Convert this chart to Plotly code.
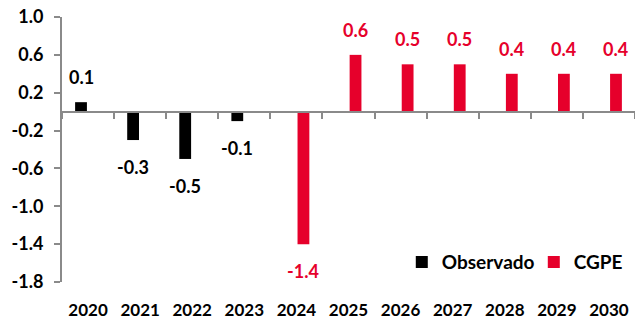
import plotly.graph_objects as go

years = ["2020", "2021", "2022", "2023", "2024", "2025", "2026", "2027", "2028", "2029", "2030"]
observado = [0.1, -0.3, -0.5, -0.1, None, None, None, None, None, None, None]
cgpe = [None, None, None, None, -1.4, 0.6, 0.5, 0.5, 0.4, 0.4, 0.4]
y_ticks = [1.0, 0.6, 0.2, -0.2, -0.6, -1.0, -1.4, -1.8]

BLACK = "#000000"
RED = "#E6002B"
AXIS = "#8A8A8A"
FONT = "Lato"
Y_MIN, Y_MAX = -1.8, 1.0
X_RANGE = [-0.5, len(years) - 0.5]

fig = go.Figure()
for name, series, color in (("Observado", observado, BLACK), ("CGPE", cgpe, RED)):
    fig.add_trace(go.Bar(name=name, x=years, y=series, marker_color=color,
                         marker_line_width=0, showlegend=False))
# square legend keys
for name, color in (("Observado", BLACK), ("CGPE", RED)):
    fig.add_trace(go.Scatter(name=name, x=[None], y=[None], mode="markers",
                             marker=dict(symbol="square", size=12, color=color),
                             showlegend=True, hoverinfo="skip"))
# hidden trace carrying the zero-line axis
fig.add_trace(go.Scatter(x=years, y=[None] * len(years), xaxis="x2", showlegend=False,
                         hoverinfo="skip", mode="markers"))

# value labels above / below each bar
annotations = []
for series, color, shift in ((observado, BLACK, -7), (cgpe, RED, 7)):
    for i, v in enumerate(series):
        if v is None:
            continue
        pos = v >= 0
        annotations.append(dict(
            x=i, y=v, xref="x", yref="y", text=f"{v:.1f}", showarrow=False,
            xshift=shift, yshift=12 if pos else -14,
            yanchor="bottom" if pos else "top", xanchor="center",
            font=dict(family=FONT, size=18, color=color, weight="bold"),
        ))

zero_pos = (0 - Y_MIN) / (Y_MAX - Y_MIN)

fig.update_layout(
    width=635, height=320,
    margin=dict(l=62, r=0, t=17, b=38, autoexpand=False),
    paper_bgcolor="white", plot_bgcolor="white",
    barmode="group", bargap=0.46, bargroupgap=0.16,
    font=dict(family=FONT, size=17, color="#000000", weight="bold"),
    showlegend=True,
    legend=dict(orientation="h", x=0.593, y=0.075, xanchor="left", yanchor="middle",
                bgcolor="rgba(0,0,0,0)", entrywidth=87,
                font=dict(family=FONT, size=19, color="#000000", weight="bold"),
                itemclick=False, itemdoubleclick=False),
    xaxis=dict(type="category", categoryorder="array", categoryarray=years,
               range=X_RANGE, showline=False, ticks="", showgrid=False, zeroline=False,
               ticklabelstandoff=16,
               tickfont=dict(family=FONT, size=17, color="#000000", weight="bold")),
    xaxis2=dict(type="category", categoryorder="array", categoryarray=years,
                range=X_RANGE, overlaying="x", anchor="free", position=zero_pos,
                showline=True, linecolor=AXIS, linewidth=2,
                ticks="outside", tickson="boundaries", ticklen=6, tickwidth=2,
                tickcolor=AXIS, showticklabels=False, showgrid=False, zeroline=False),
    yaxis=dict(range=[Y_MIN, Y_MAX], tickvals=y_ticks,
               ticktext=[f"{t:.1f}" for t in y_ticks],
               showline=True, linecolor=AXIS, linewidth=2,
               ticks="outside", ticklen=6, tickwidth=2, tickcolor=AXIS,
               ticklabelstandoff=7,
               showgrid=False, zeroline=False,
               tickfont=dict(family=FONT, size=18, color="#000000", weight="bold")),
    annotations=annotations,
)

fig.write_html("out.html")
